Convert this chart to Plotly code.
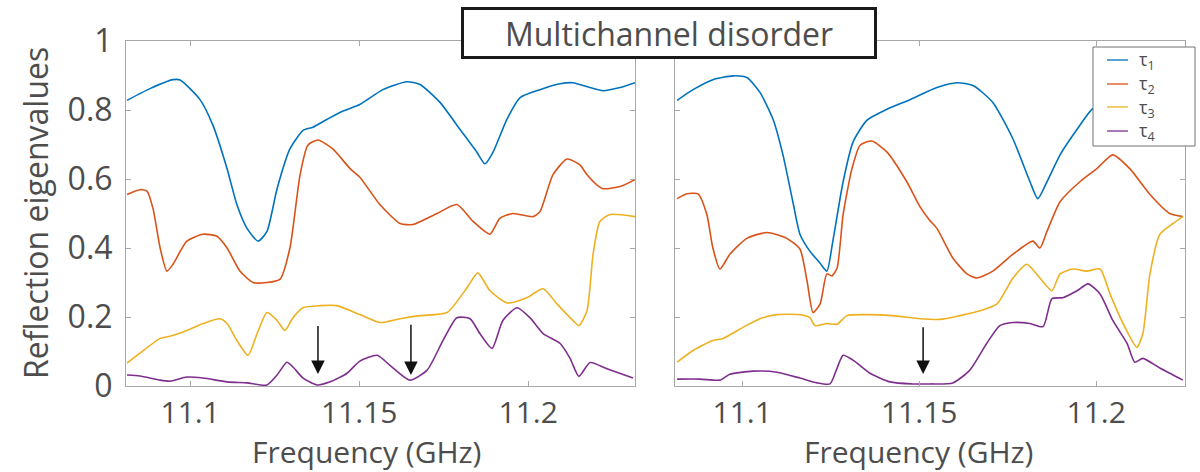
import plotly.graph_objects as go

# ---- Left panel: frequency (GHz) and reflection eigenvalues ----
f_l_t1 = [11.0813, 11.0881, 11.0949, 11.0970, 11.1029, 11.1067, 11.1109, 11.1138, 11.1168, 11.1201,
          11.1227, 11.1257, 11.1295, 11.1334, 11.1363, 11.1405, 11.1452, 11.1502, 11.1570, 11.1641,
          11.1680, 11.1739, 11.1798, 11.1848, 11.1872, 11.1896, 11.1937, 11.1976, 11.2035, 11.2094,
          11.2132, 11.2183, 11.2221, 11.2272, 11.2316]
l_t1 = [0.828, 0.862, 0.888, 0.887, 0.830, 0.756, 0.630, 0.526, 0.457, 0.420,
        0.448, 0.572, 0.687, 0.741, 0.750, 0.773, 0.797, 0.816, 0.859, 0.882,
        0.874, 0.822, 0.744, 0.678, 0.644, 0.678, 0.773, 0.836, 0.859, 0.876,
        0.879, 0.865, 0.856, 0.865, 0.879]

f_l_t2 = [11.0813, 11.0851, 11.0872, 11.0890, 11.0911, 11.0931, 11.0949, 11.0990, 11.1038, 11.1079,
          11.1109, 11.1147, 11.1186, 11.1227, 11.1266, 11.1295, 11.1325, 11.1348, 11.1378, 11.1422,
          11.1473, 11.1502, 11.1561, 11.1621, 11.1659, 11.1730, 11.1789, 11.1837, 11.1887, 11.1916,
          11.1955, 11.2014, 11.2035, 11.2073, 11.2115, 11.2153, 11.2174, 11.2203, 11.2221, 11.2272,
          11.2316]
l_t2 = [0.555, 0.569, 0.565, 0.514, 0.400, 0.333, 0.353, 0.420, 0.440, 0.434,
        0.400, 0.333, 0.300, 0.300, 0.310, 0.400, 0.612, 0.698, 0.713, 0.687,
        0.630, 0.605, 0.526, 0.471, 0.468, 0.500, 0.526, 0.477, 0.440, 0.486,
        0.500, 0.491, 0.506, 0.612, 0.658, 0.641, 0.612, 0.583, 0.572, 0.578,
        0.598]

f_l_t3 = [11.0813, 11.0851, 11.0911, 11.0940, 11.0990, 11.1038, 11.1088, 11.1109, 11.1138, 11.1171,
          11.1198, 11.1227, 11.1257, 11.1280, 11.1304, 11.1334, 11.1384, 11.1434, 11.1502, 11.1561,
          11.1621, 11.1680, 11.1760, 11.1819, 11.1851, 11.1887, 11.1937, 11.1996, 11.2044, 11.2085,
          11.2132, 11.2150, 11.2174, 11.2192, 11.2212, 11.2242, 11.2316]
l_t3 = [0.066, 0.095, 0.138, 0.144, 0.161, 0.181, 0.195, 0.181, 0.132, 0.089,
        0.152, 0.213, 0.190, 0.161, 0.198, 0.227, 0.233, 0.233, 0.207, 0.184,
        0.195, 0.204, 0.213, 0.285, 0.328, 0.276, 0.241, 0.256, 0.282, 0.238,
        0.190, 0.175, 0.218, 0.382, 0.477, 0.497, 0.491]

f_l_t4 = [11.0813, 11.0851, 11.0911, 11.0940, 11.0990, 11.1038, 11.1109, 11.1168, 11.1227, 11.1257,
          11.1286, 11.1304, 11.1334, 11.1375, 11.1414, 11.1464, 11.1502, 11.1553, 11.1591, 11.1650,
          11.1701, 11.1748, 11.1789, 11.1828, 11.1857, 11.1893, 11.1925, 11.1967, 11.2005, 11.2044,
          11.2094, 11.2124, 11.2150, 11.2183, 11.2233, 11.2310]
l_t4 = [0.032, 0.029, 0.017, 0.014, 0.026, 0.023, 0.012, 0.009, 0.003, 0.032,
        0.069, 0.055, 0.023, 0.003, 0.012, 0.037, 0.072, 0.089, 0.060, 0.017,
        0.046, 0.132, 0.198, 0.195, 0.152, 0.109, 0.190, 0.227, 0.198, 0.152,
        0.124, 0.080, 0.028, 0.068, 0.050, 0.023]

# ---- Right panel ----
f_r_t1 = [11.0816, 11.0861, 11.0917, 11.0974, 11.1013, 11.1050, 11.1087, 11.1115, 11.1143, 11.1163,
          11.1191, 11.1220, 11.1239, 11.1256, 11.1285, 11.1313, 11.1352, 11.1409, 11.1474, 11.1550,
          11.1607, 11.1652, 11.1708, 11.1765, 11.1813, 11.1835, 11.1861, 11.1898, 11.1946, 11.1988,
          11.2067, 11.2152, 11.2251]
r_t1 = [0.828, 0.859, 0.888, 0.899, 0.894, 0.851, 0.773, 0.670, 0.534, 0.440,
        0.391, 0.356, 0.333, 0.420, 0.592, 0.707, 0.770, 0.802, 0.830, 0.865,
        0.879, 0.871, 0.822, 0.716, 0.592, 0.543, 0.592, 0.670, 0.744, 0.802,
        0.850, 0.870, 0.880]

f_r_t2 = [11.0816, 11.0844, 11.0875, 11.0900, 11.0917, 11.0937, 11.0965, 11.1013, 11.1070, 11.1126,
          11.1163, 11.1183, 11.1200, 11.1220, 11.1239, 11.1253, 11.1268, 11.1285, 11.1310, 11.1333,
          11.1366, 11.1409, 11.1465, 11.1502, 11.1530, 11.1550, 11.1595, 11.1635, 11.1663, 11.1708,
          11.1765, 11.1821, 11.1841, 11.1861, 11.1898, 11.1954, 11.2002, 11.2047, 11.2095, 11.2152,
          11.2208, 11.2245]
r_t2 = [0.543, 0.557, 0.557, 0.497, 0.400, 0.339, 0.382, 0.428, 0.445, 0.428,
        0.397, 0.305, 0.213, 0.238, 0.325, 0.319, 0.342, 0.497, 0.630, 0.698,
        0.710, 0.678, 0.592, 0.520, 0.480, 0.457, 0.371, 0.325, 0.313, 0.333,
        0.382, 0.420, 0.400, 0.448, 0.534, 0.592, 0.630, 0.670, 0.630, 0.555,
        0.500, 0.491]

f_r_t3 = [11.0816, 11.0861, 11.0917, 11.0946, 11.1002, 11.1050, 11.1098, 11.1163, 11.1191, 11.1205,
          11.1239, 11.1268, 11.1296, 11.1352, 11.1426, 11.1502, 11.1559, 11.1615, 11.1672, 11.1720,
          11.1765, 11.1804, 11.1841, 11.1875, 11.1898, 11.1934, 11.1974, 11.2011, 11.2039, 11.2076,
          11.2115, 11.2132, 11.2152, 11.2180, 11.2217, 11.2245]
r_t3 = [0.069, 0.103, 0.132, 0.138, 0.170, 0.195, 0.207, 0.207, 0.198, 0.175,
        0.181, 0.179, 0.204, 0.207, 0.204, 0.195, 0.193, 0.204, 0.218, 0.238,
        0.313, 0.353, 0.313, 0.276, 0.325, 0.339, 0.333, 0.339, 0.267, 0.181,
        0.112, 0.152, 0.325, 0.440, 0.471, 0.491]

f_r_t4 = [11.0816, 11.0881, 11.0937, 11.0965, 11.1030, 11.1098, 11.1163, 11.1211, 11.1248, 11.1268,
          11.1285, 11.1313, 11.1361, 11.1417, 11.1482, 11.1530, 11.1595, 11.1643, 11.1691, 11.1728,
          11.1765, 11.1813, 11.1850, 11.1875, 11.1906, 11.1946, 11.1977, 11.2011, 11.2047, 11.2087,
          11.2109, 11.2132, 11.2180, 11.2245]
r_t4 = [0.020, 0.020, 0.017, 0.034, 0.043, 0.040, 0.023, 0.009, 0.006, 0.052,
        0.089, 0.075, 0.037, 0.012, 0.006, 0.006, 0.009, 0.046, 0.124, 0.175,
        0.184, 0.181, 0.172, 0.253, 0.256, 0.276, 0.296, 0.267, 0.190, 0.124,
        0.069, 0.080, 0.052, 0.017]

# Arrow markers: (frequency, tail value, tip value)
arrows_left = [(11.1378, 0.178, 0.035), (11.1653, 0.182, 0.032)]
arrows_right = [(11.1511, 0.175, 0.035)]

series_names = ["τ<sub>1</sub>", "τ<sub>2</sub>", "τ<sub>3</sub>", "τ<sub>4</sub>"]
colors = ["#0072BD", "#D95319", "#EDB120", "#7E2F8E"]

x_ticks = [11.1, 11.15, 11.2]
x_tick_text = ["11.1", "11.15", "11.2"]
y_ticks = [0, 0.2, 0.4, 0.6, 0.8, 1]
y_tick_text = ["0", "0.2", "0.4", "0.6", "0.8", "1"]

FONT = "Open Sans"
TEXT_C = "#4d4d4d"
AX_C = "#a8a8a8"
W, H = 1200, 472


def px_x(p):
    return p / W


def px_y(p):
    return 1 - p / H


fig = go.Figure()

left = [(f_l_t1, l_t1), (f_l_t2, l_t2), (f_l_t3, l_t3), (f_l_t4, l_t4)]
right = [(f_r_t1, r_t1), (f_r_t2, r_t2), (f_r_t3, r_t3), (f_r_t4, r_t4)]

for i, (fx, vy) in enumerate(left):
    fig.add_trace(go.Scatter(x=fx, y=vy, mode="lines", xaxis="x", yaxis="y",
                             name=series_names[i],
                             line=dict(color=colors[i], width=1.6, shape="spline", smoothing=0.6),
                             showlegend=False, hoverinfo="skip"))
for i, (fx, vy) in enumerate(right):
    fig.add_trace(go.Scatter(x=fx, y=vy, mode="lines", xaxis="x2", yaxis="y2",
                             name=series_names[i],
                             line=dict(color=colors[i], width=1.6, shape="spline", smoothing=0.6),
                             showlegend=False, hoverinfo="skip"))

axis_common = dict(showline=True, linecolor=AX_C, linewidth=1, mirror="ticks",
                   ticks="inside", ticklen=5, tickcolor=AX_C, showgrid=False, zeroline=False,
                   automargin=False)
ytick_font = dict(family=FONT, size=32, color=TEXT_C)
xtick_font = dict(family=FONT, size=30, color=TEXT_C)

fig.update_layout(
    width=W, height=H, autosize=False,
    margin=dict(l=0, r=0, t=0, b=0, autoexpand=False),
    paper_bgcolor="white", plot_bgcolor="white",
    showlegend=False,
    xaxis=dict(domain=[px_x(126), px_x(635)], range=[11.081, 11.2316],
               tickvals=x_ticks, ticktext=x_tick_text, anchor="y",
               ticklabelstandoff=0, tickfont=xtick_font, **axis_common),
    yaxis=dict(domain=[px_y(386), px_y(41)], range=[0, 1], anchor="x",
               tickvals=y_ticks, ticktext=y_tick_text, ticklabelstandoff=6,
               tickfont=ytick_font, **axis_common),
    xaxis2=dict(domain=[px_x(675), px_x(1185)], range=[11.081, 11.2251],
                tickvals=x_ticks, ticktext=x_tick_text, anchor="y2",
                ticklabelstandoff=0, tickfont=xtick_font, **axis_common),
    yaxis2=dict(domain=[px_y(386), px_y(41)], range=[0, 1], anchor="x2",
                tickvals=y_ticks, showticklabels=False, **axis_common),
)

title_font = dict(family=FONT, size=32, color=TEXT_C)
xtitle_font = dict(family=FONT, size=30, color=TEXT_C)
annotations = [
    dict(text="Reflection eigenvalues", x=px_x(35), y=px_y(213), xref="paper", yref="paper",
         textangle=-90, showarrow=False, font=title_font, xanchor="center", yanchor="middle"),
    dict(text="Frequency (GHz)", x=px_x(366), y=px_y(451), xref="paper", yref="paper",
         showarrow=False, font=xtitle_font, xanchor="center", yanchor="middle"),
    dict(text="Frequency (GHz)", x=px_x(918), y=px_y(451), xref="paper", yref="paper",
         showarrow=False, font=xtitle_font, xanchor="center", yanchor="middle"),
    dict(text="Multichannel disorder", x=px_x(669), y=px_y(33), xref="paper", yref="paper",
         showarrow=False, font=title_font,
         bgcolor="white", bordercolor="#1a1a1a", borderwidth=3, borderpad=0,
         width=410, height=46, xanchor="center", yanchor="middle"),
]
for fx, tail, tip in arrows_left:
    annotations.append(dict(x=fx, y=tip, ax=fx, ay=tail, xref="x", yref="y", axref="x", ayref="y",
                            text="", showarrow=True, arrowhead=2, arrowsize=1.8, arrowwidth=1.5,
                            arrowcolor="#111111"))
for fx, tail, tip in arrows_right:
    annotations.append(dict(x=fx, y=tip, ax=fx, ay=tail, xref="x2", yref="y2", axref="x2", ayref="y2",
                            text="", showarrow=True, arrowhead=2, arrowsize=1.8, arrowwidth=1.5,
                            arrowcolor="#111111"))

# Legend box in the top-right corner of the right panel
shapes = [dict(type="rect", xref="paper", yref="paper",
               x0=px_x(1093), x1=px_x(1195), y0=px_y(146), y1=px_y(47),
               fillcolor="white", line=dict(color="#707070", width=1), layer="above")]
row_y = [60, 84, 107, 131]
for i, name in enumerate(series_names):
    shapes.append(dict(type="line", xref="paper", yref="paper",
                       x0=px_x(1107), x1=px_x(1128), y0=px_y(row_y[i]), y1=px_y(row_y[i]),
                       line=dict(color=colors[i], width=2), opacity=0.65, layer="above"))
    annotations.append(dict(text=name, x=px_x(1137), y=px_y(row_y[i] + 1), xref="paper", yref="paper",
                            showarrow=False, xanchor="left", yanchor="middle",
                            font=dict(family=FONT, size=18, color=TEXT_C)))

fig.update_layout(annotations=annotations, shapes=shapes)

fig.write_html("out.html")
